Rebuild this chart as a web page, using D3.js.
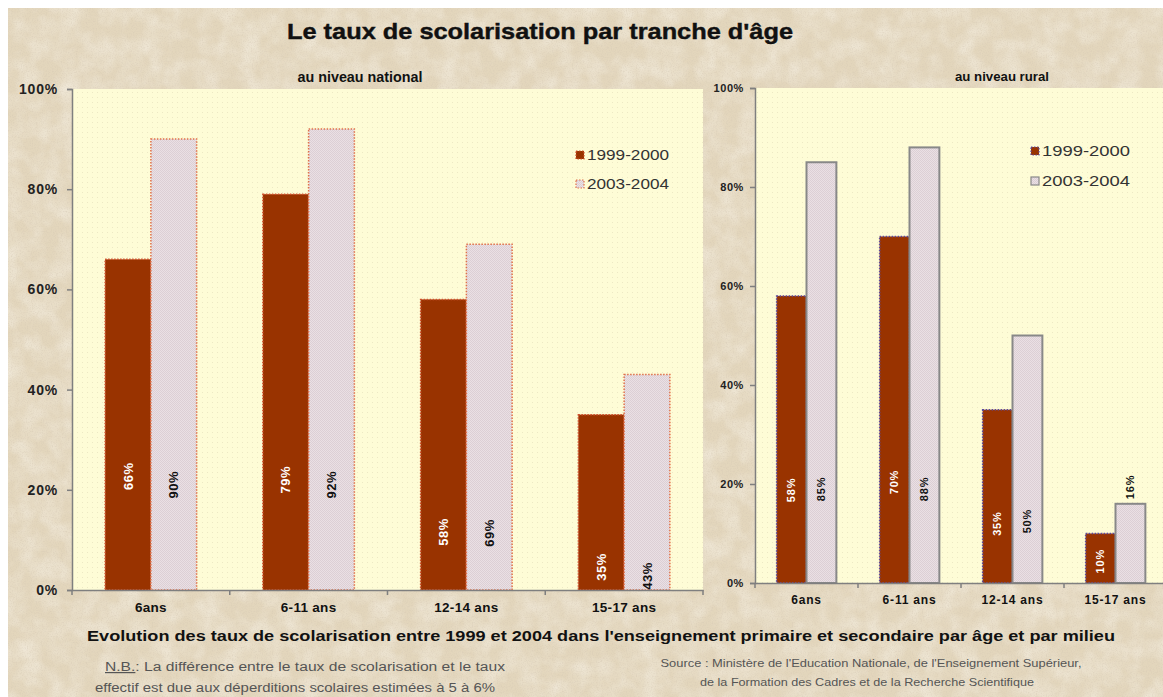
<!DOCTYPE html>
<html><head><meta charset="utf-8">
<script src="https://cdn.jsdelivr.net/npm/d3@7"></script>
<style>body{margin:0;background:#fff}svg{display:block}</style>
</head><body><svg id="c" width="1163" height="697"></svg>
<script>
// ---------------- data ----------------
const categories = ["6ans", "6-11 ans", "12-14 ans", "15-17 ans"];
const seriesNames = ["1999-2000", "2003-2004"];
const national1999 = [66, 79, 58, 35];
const national2003 = [90, 92, 69, 43];
const rural1999 = [58, 70, 35, 10];
const rural2003 = [85, 88, 50, 16];
const yTicks = [0, 20, 40, 60, 80, 100];
// where (in axis %) each value label sits, as in the original picture
const nationalLabelAt1999 = [22.7, 22, 11.6, 4.6];
const nationalLabelAt2003 = [21, 21, 11.4, 2.8];
const ruralLabelAt1999 = [18.8, 20.4, 12, 4.4];
const ruralLabelAt2003 = [19, 19, 12.5, 19.4];

const FONT = "'Liberation Sans', Arial, sans-serif";
const DARK = "#993300";
const svg = d3.select("#c");
const defs = svg.append("defs");

// paper texture
const f = defs.append("filter").attr("id", "paper").attr("x", 0).attr("y", 0).attr("width", "100%").attr("height", "100%");
f.append("feTurbulence").attr("type", "fractalNoise").attr("baseFrequency", "0.8").attr("numOctaves", 2).attr("seed", 4).attr("result", "n1");
f.append("feColorMatrix").attr("in", "n1").attr("type", "matrix")
  .attr("values", "0 0 0 0 0.68  0 0 0 0 0.59  0 0 0 0 0.46  0 0 0 1.3 -0.55").attr("result", "grain");
f.append("feTurbulence").attr("type", "fractalNoise").attr("baseFrequency", "0.05").attr("numOctaves", 3).attr("seed", 9).attr("result", "n2");
f.append("feColorMatrix").attr("in", "n2").attr("type", "matrix")
  .attr("values", "0 0 0 0 0.96  0 0 0 0 0.93  0 0 0 0 0.86  0 0 0 0.9 -0.3").attr("result", "blot");
const mg = f.append("feMerge");
mg.append("feMergeNode").attr("in", "blot");
mg.append("feMergeNode").attr("in", "grain");

// yellow dotted plot pattern
const py = defs.append("pattern").attr("id", "plotbg").attr("width", 5).attr("height", 5).attr("patternUnits", "userSpaceOnUse");
py.append("rect").attr("width", 5).attr("height", 5).attr("fill", "#FEFCD6");
py.append("rect").attr("x", 2).attr("y", 2).attr("width", 1).attr("height", 1).attr("fill", "#EDE8C4");
// light bar pattern
const pl = defs.append("pattern").attr("id", "lightbar").attr("width", 2).attr("height", 2).attr("patternUnits", "userSpaceOnUse");
pl.append("rect").attr("width", 2).attr("height", 2).attr("fill", "#EAE0E4");
pl.append("rect").attr("width", 1).attr("height", 1).attr("fill", "#DCCFD5");
pl.append("rect").attr("x", 1).attr("y", 1).attr("width", 1).attr("height", 1).attr("fill", "#DCCFD5");

// paper background
svg.append("rect").attr("x", 8).attr("y", 8).attr("width", 1155).attr("height", 689).attr("fill", "#E3D6BC");
svg.append("rect").attr("x", 8).attr("y", 8).attr("width", 1155).attr("height", 689).attr("filter", "url(#paper)");

// titles
svg.append("text").attr("x", 540).attr("y", 39).attr("text-anchor", "middle")
  .attr("font-family", FONT).attr("font-weight", "bold").attr("font-size", 22).attr("fill", "#111")
  .attr("stroke", "#111").attr("stroke-width", 0.4)
  .attr("textLength", 506).attr("lengthAdjust", "spacingAndGlyphs")
  .text("Le taux de scolarisation par tranche d'âge");

function panel(o) {
  const x = d3.scaleBand().domain(categories).range([o.x0, o.x1]);
  const y = d3.scaleLinear().domain([0, 100]).range([o.yBottom, o.yTop]);
  const g = svg.append("g");
  g.append("rect").attr("x", o.x0).attr("y", o.yTop).attr("width", o.x1 - o.x0).attr("height", o.yBottom - o.yTop)
    .attr("fill", "url(#plotbg)");

  // subtitle
  g.append("text").attr("x", o.subX).attr("y", o.subY).attr("text-anchor", "middle")
    .attr("font-family", FONT).attr("font-weight", "bold").attr("font-size", o.subSize).attr("fill", "#111")
    .attr("textLength", o.subLen).attr("lengthAdjust", "spacingAndGlyphs").text(o.subtitle);

  const bw = x.bandwidth() * 0.29;
  const rows = categories.map((c, i) => ({ c, i, a: o.v1[i], b: o.v2[i], la: o.l1[i], lb: o.l2[i] }));

  // dark bars
  g.selectAll("rect.dark").data(rows).join("rect").attr("class", "dark")
    .attr("x", d => x(d.c) + x.bandwidth() / 2 - bw).attr("width", bw)
    .attr("y", d => y(d.a)).attr("height", d => y(0) - y(d.a))
    .attr("fill", DARK).attr("stroke", o.darkStroke).attr("stroke-width", 1.5).attr("stroke-dasharray", "1.5,1.5");
  // light bars
  g.selectAll("rect.light").data(rows).join("rect").attr("class", "light")
    .attr("x", d => x(d.c) + x.bandwidth() / 2).attr("width", bw)
    .attr("y", d => y(d.b)).attr("height", d => y(0) - y(d.b))
    .attr("fill", "url(#lightbar)").attr("stroke", o.lightStroke).attr("stroke-width", o.lightStrokeW)
    .attr("stroke-dasharray", o.lightDash);

  // value labels (rotated)
  g.selectAll("text.la").data(rows).join("text").attr("class", "la")
    .attr("transform", d => `translate(${x(d.c) + x.bandwidth() / 2 - bw / 2},${y(d.la)}) rotate(-90)`)
    .attr("text-anchor", "middle").attr("dy", "0.35em")
    .attr("font-family", FONT).attr("font-weight", "bold").attr("font-size", o.valSize).attr("fill", "#fff")
    .attr("letter-spacing", o.valSpacing).text(d => d.a + "%");
  g.selectAll("text.lb").data(rows).join("text").attr("class", "lb")
    .attr("transform", d => `translate(${x(d.c) + x.bandwidth() / 2 + bw / 2},${y(d.lb)}) rotate(-90)`)
    .attr("text-anchor", "middle").attr("dy", "0.35em")
    .attr("font-family", FONT).attr("font-weight", "bold").attr("font-size", o.valSize).attr("fill", "#111")
    .attr("letter-spacing", o.valSpacing).text(d => d.b + "%");

  // y axis
  const ya = g.append("g").attr("transform", `translate(${o.x0},0)`)
    .call(d3.axisLeft(y).tickValues(yTicks).tickFormat(d => d + "%").tickSize(5).tickPadding(o.yPad));
  ya.select(".domain").attr("stroke", "#7f7f7f").attr("stroke-width", 1.5);
  ya.selectAll(".tick line").attr("stroke", "#7f7f7f").attr("stroke-width", 1.5);
  ya.selectAll(".tick text").attr("font-family", FONT).attr("font-weight", "bold").attr("font-size", o.ySize)
    .attr("fill", "#222").attr("letter-spacing", o.ySpacing);

  // x axis
  const xa = g.append("g").attr("transform", `translate(0,${o.yBottom})`)
    .call(d3.axisBottom(x).tickSize(0).tickPadding(o.xPad));
  xa.select(".domain").attr("stroke", "#7f7f7f").attr("stroke-width", 1.5);
  xa.selectAll(".tick text").attr("font-family", FONT).attr("font-weight", "bold").attr("font-size", o.xSize)
    .attr("fill", "#111").attr("letter-spacing", o.xSpacing);
  const bounds = categories.map(c => x(c)).concat([x(categories[categories.length - 1]) + x.bandwidth()]);
  xa.selectAll("line.bt").data(bounds).join("line").attr("class", "bt")
    .attr("x1", d => d).attr("x2", d => d).attr("y1", 0).attr("y2", 5)
    .attr("stroke", "#7f7f7f").attr("stroke-width", 1.5);

  // legend
  const lg = g.append("g");
  seriesNames.forEach((s, i) => {
    lg.append("rect").attr("x", o.legX).attr("y", o.legY + i * o.legGap - 4).attr("width", 8).attr("height", 8)
      .attr("fill", i === 0 ? DARK : "url(#lightbar)")
      .attr("stroke", i === 0 ? o.darkStroke : o.lightStroke).attr("stroke-width", 1.2)
      .attr("stroke-dasharray", i === 0 ? "1.5,1.5" : o.lightDash);
    lg.append("text").attr("x", o.legX + 11).attr("y", o.legY + i * o.legGap).attr("dy", "0.35em")
      .attr("font-family", FONT).attr("font-size", o.legSize).attr("fill", "#333")
      .attr("textLength", o.legLen).attr("lengthAdjust", "spacingAndGlyphs").text(s);
  });
}

panel({
  x0: 72, x1: 703, yTop: 89, yBottom: 590,
  v1: national1999, v2: national2003, l1: nationalLabelAt1999, l2: nationalLabelAt2003,
  subtitle: "au niveau national", subX: 360, subY: 82, subSize: 14, subLen: 125,
  darkStroke: "#D0502C", lightStroke: "#E0704A", lightStrokeW: 1.5, lightDash: "1.5,1.5",
  valSize: 13, valSpacing: 0.5,
  ySize: 14, ySpacing: 0.8, yPad: 9, xSize: 13.5, xSpacing: 0.3, xPad: 12,
  legX: 576, legY: 155, legGap: 29, legSize: 14, legLen: 82
});
panel({
  x0: 755, x1: 1167, yTop: 88, yBottom: 583,
  v1: rural1999, v2: rural2003, l1: ruralLabelAt1999, l2: ruralLabelAt2003,
  subtitle: "au niveau rural", subX: 1002, subY: 81, subSize: 12, subLen: 94,
  darkStroke: "#5A4AA0", lightStroke: "#888", lightStrokeW: 2, lightDash: null,
  valSize: 11, valSpacing: 0.8,
  ySize: 11, ySpacing: 0.6, yPad: 6, xSize: 12, xSpacing: 0.8, xPad: 12,
  legX: 1031, legY: 151, legGap: 30, legSize: 14, legLen: 88
});

// caption
svg.append("text").attr("x", 601).attr("y", 641).attr("text-anchor", "middle")
  .attr("font-family", FONT).attr("font-weight", "bold").attr("font-size", 14.5).attr("fill", "#111")
  .attr("textLength", 1028).attr("lengthAdjust", "spacingAndGlyphs")
  .text("Evolution des taux de scolarisation entre 1999 et 2004 dans l'enseignement primaire et secondaire par âge et par milieu");

// N.B.
const nb = svg.append("text").attr("x", 105).attr("y", 671).attr("font-family", FONT).attr("font-size", 12).attr("fill", "#555")
  .attr("textLength", 400).attr("lengthAdjust", "spacingAndGlyphs");
nb.append("tspan").attr("text-decoration", "underline").text("N.B.");
nb.append("tspan").text(": La différence entre le taux de scolarisation et le taux");
svg.append("text").attr("x", 95).attr("y", 692).attr("font-family", FONT).attr("font-size", 12).attr("fill", "#555")
  .attr("textLength", 400).attr("lengthAdjust", "spacingAndGlyphs")
  .text("effectif est due aux déperditions scolaires estimées à 5 à 6%");

// source
svg.append("text").attr("x", 871).attr("y", 667).attr("text-anchor", "middle").attr("font-family", FONT).attr("font-size", 11)
  .attr("fill", "#555").attr("textLength", 421).attr("lengthAdjust", "spacingAndGlyphs")
  .text("Source : Ministère de l'Education Nationale, de l'Enseignement Supérieur,");
svg.append("text").attr("x", 867).attr("y", 686).attr("text-anchor", "middle").attr("font-family", FONT).attr("font-size", 11)
  .attr("fill", "#555").attr("textLength", 334).attr("lengthAdjust", "spacingAndGlyphs")
  .text("de la Formation des Cadres et de la Recherche Scientifique");
</script></body></html>
